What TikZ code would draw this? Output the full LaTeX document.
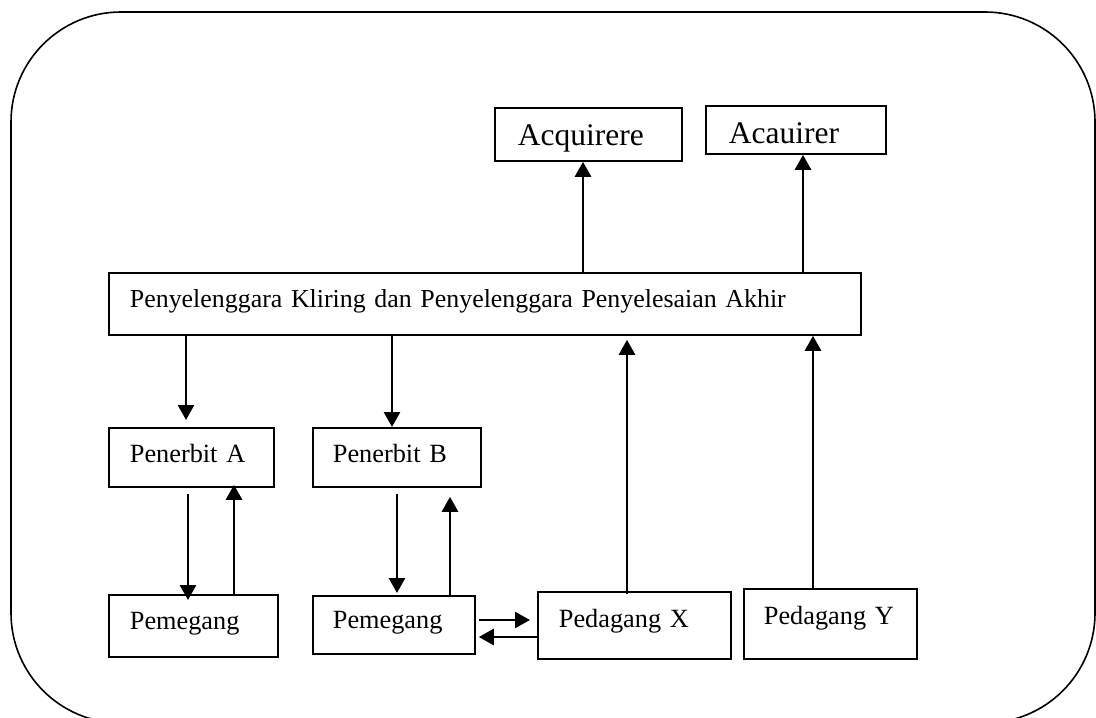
\documentclass[tikz,border=0pt]{standalone}
\usepackage{fontspec}
\setmainfont{Liberation Serif}
\usetikzlibrary{arrows.meta}

\begin{document}
\begin{tikzpicture}[x=0.5pt, y=-0.5pt,
  kotak/.style={draw, line width=0.9pt, rectangle, anchor=north west, align=left,
    inner ysep=0pt, font=\fontsize{13.15}{15}\selectfont, text height=9.2pt, text depth=5.3pt},
  judul/.style={kotak, font=\fontsize{15.75}{18}\selectfont, text depth=0pt},
  panah/.style={line width=1.3pt, -{Triangle[length=7.5pt,width=8pt]}},
  bingkai/.style={line width=0.8pt, rounded corners=55pt}]
  \useasboundingbox (0,0) rectangle (1096,717);

  % Frame
  \draw[bingkai] (11,12) rectangle (1095,723);

  % Acquirer boxes
  \node[judul, text height=11pt, inner xsep=11.5pt, text width=70.5pt, minimum height=26.5pt] (acq1) at (494,107) {Acquirere};
  \node[judul, text height=14pt, inner xsep=11.5pt, text width=67pt, minimum height=24pt] (acq2) at (705,105) {Acauirer};

  % Clearing box
  \node[kotak, font=\fontsize{12.95}{15}\selectfont, inner xsep=10.5pt, text width=355pt, minimum height=31pt] (kliring) at (108,272) {Penyelenggara Kliring dan Penyelenggara Penyelesaian Akhir};

  % Issuers
  \node[kotak, text depth=3.7pt, inner xsep=10.5pt, text width=61.5pt, minimum height=29.5pt] (penA) at (108,427) {Penerbit A};
  \node[kotak, text depth=3.7pt, inner xsep=10pt, text width=64pt, minimum height=29.5pt] (penB) at (312,427) {Penerbit B};

  % Holders and merchants
  \node[kotak, inner xsep=10.5pt, text width=63.5pt, minimum height=31pt] (pemA) at (108,594) {Pemegang};
  \node[kotak, inner xsep=10pt, text width=61pt, minimum height=29pt] (pemB) at (312,595) {Pemegang};
  \node[kotak, text depth=6.7pt, inner xsep=10.5pt, text width=75.5pt, minimum height=33.5pt] (pedX) at (537,591) {Pedagang X};
  \node[kotak, text depth=8.2pt, inner xsep=10pt, text width=66.5pt, minimum height=35pt] (pedY) at (743,588) {Pedagang Y};

  % Arrows up to acquirers
  \draw[panah] (583,0 |- kliring.north) -- (583,0 |- acq1.south);
  \draw[panah] (803,0 |- kliring.north) -- (803,0 |- acq2.south);

  % Arrows down to issuers
  \draw[panah, shorten >=3.5pt] (186,0 |- kliring.south) -- (186,0 |- penA.north);
  \draw[panah] (392,0 |- kliring.south) -- (392,0 |- penB.north);

  % Issuer <-> holder
  \draw[panah, shorten <=3pt, shorten >=-3pt] (188,0 |- penA.south) -- (188,0 |- pemA.north);
  \draw[panah, shorten >=-1.5pt] (234,0 |- pemA.north) -- (234,0 |- penA.south);
  \draw[panah, shorten <=3pt, shorten >=1pt] (397,0 |- penB.south) -- (397,0 |- pemB.north);
  \draw[panah, shorten >=4.5pt] (450,0 |- pemB.north) -- (450,0 |- penB.south);

  % Merchants up to clearing
  \draw[panah, shorten <=-1.5pt, shorten >=2pt] (627,0 |- pedX.north) -- (627,0 |- kliring.south);
  \draw[panah] (813,0 |- pedY.north) -- (813,0 |- kliring.south);

  % Holder <-> merchant
  \draw[panah, shorten <=1.5pt, shorten >=3.5pt] (pemB.east |- 0,620) -- (pedX.west |- 0,620);
  \draw[panah, shorten >=1.5pt] (pedX.west |- 0,637) -- (pemB.east |- 0,637);
\end{tikzpicture}
\end{document}
